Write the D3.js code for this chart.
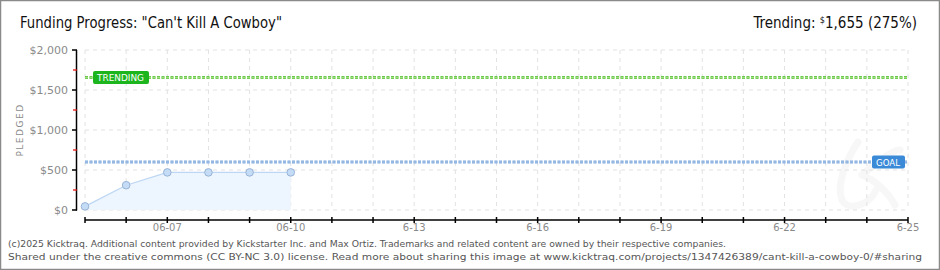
<!DOCTYPE html>
<html><head><meta charset="utf-8">
<script src="https://cdn.jsdelivr.net/npm/d3@7"></script>
<style>body{margin:0;background:#fff}svg{display:block}</style>
</head><body>
<svg id="c" width="940" height="270"></svg>
<script>
const dates = ["06-05","06-06","06-07","06-08","06-09","06-10"];
const pledged = [45, 310, 470, 470, 470, 470];
const axisDays = ["06-05","06-06","06-07","06-08","06-09","06-10","06-11","06-12","06-13","06-14","06-15","06-16","06-17","06-18","06-19","06-20","06-21","06-22","06-23","06-24","06-25"];
const axisLabels = {"06-07":"06-07","06-10":"06-10","06-13":"6-13","06-16":"6-16","06-19":"6-19","06-22":"6-22","06-25":"6-25"};
const yTicks = [0, 500, 1000, 1500, 2000];
const yMinor = [250, 750, 1250, 1750];
const goal = 600;
const trending = 1655;
const trendingPct = 275;
const title = "Funding Progress: \"Can't Kill A Cowboy\"";
const footer = ["(c)2025 Kicktraq. Additional content provided by Kickstarter Inc. and Max Ortiz. Trademarks and related content are owned by their respective companies.",
"Shared under the creative commons (CC BY-NC 3.0) license. Read more about sharing this image at www.kicktraq.com/projects/1347426389/cant-kill-a-cowboy-0/#sharing"];
const footerWidths = [718, 914];

const svg = d3.select("#c");
const x = d3.scalePoint().domain(axisDays).range([85, 908]);
const y = d3.scaleLinear().domain([0, 2000]).range([210, 50]);
const pf = "DejaVu Sans, sans-serif";

svg.append("rect").attr("x",0.5).attr("y",0.5).attr("width",939).attr("height",269)
  .attr("fill","#fff").attr("stroke","#8a8a8a").attr("stroke-width",1.5);

// faint watermark (decorative path)
svg.append("path").attr("d","M858,142 C846,160 836,185 842,200 C848,212 870,205 876,190 M862,175 C880,160 896,148 900,150 M862,175 C875,180 888,192 895,205")
  .attr("fill","none").attr("stroke","#f7f7f7").attr("stroke-width",7).attr("stroke-linecap","round");

// grid
const g = svg.append("g");
g.selectAll("line.v").data(axisDays).join("line")
  .attr("x1",d=>x(d)).attr("x2",d=>x(d)).attr("y1",y(2000)).attr("y2",y(0))
  .attr("stroke","#e2e2e2").attr("stroke-dasharray","4,4");
g.selectAll("line.h").data(yTicks).join("line")
  .attr("x1",85).attr("x2",908).attr("y1",d=>y(d)).attr("y2",d=>y(d))
  .attr("stroke","#e2e2e2").attr("stroke-dasharray","4,4");

// area + line
const area = d3.area().x((d,i)=>x(dates[i])).y0(y(0)).y1(d=>y(d));
const line = d3.line().x((d,i)=>x(dates[i])).y(d=>y(d));
svg.append("path").attr("d",area(pledged)).attr("fill","#edf5fe");
svg.append("path").attr("d",line(pledged)).attr("fill","none").attr("stroke","#bcd6f3").attr("stroke-width",1.2);

// goal + trending lines
function refLine(v, col, edge){
  svg.append("line").attr("x1",85).attr("x2",908).attr("y1",y(v)).attr("y2",y(v))
    .attr("stroke",edge).attr("stroke-width",3).attr("stroke-dasharray","3,1.5");
  svg.append("line").attr("x1",85).attr("x2",908).attr("y1",y(v)).attr("y2",y(v))
    .attr("stroke",col).attr("stroke-width",1.2).attr("stroke-dasharray","3,1.5");
}
refLine(trending, "#9be07f", "#6cc84a");
refLine(goal, "#a9c8ec", "#7fa9db");

// points
svg.selectAll("circle").data(pledged).join("circle")
  .attr("cx",(d,i)=>x(dates[i])).attr("cy",d=>y(d)).attr("r",3.8)
  .attr("fill","#c4dcf6").attr("stroke","#98b3d6").attr("stroke-width",1);

// labels on ref lines
function tag(xl, w, v, col, txt){
  const yy = y(v);
  svg.append("rect").attr("x",xl).attr("y",yy-6.5).attr("width",w).attr("height",13)
    .attr("rx",2).attr("fill",col);
  svg.append("text").attr("x",xl+4).attr("y",yy+3.5).attr("font-family",pf).attr("font-size",9)
    .attr("textLength",w-9).attr("lengthAdjust","spacingAndGlyphs").attr("fill","#fff").text(txt);
}
tag(93, 56, trending, "#1db51d", "TRENDING");
tag(872, 33, goal, "#3b8ad8", "GOAL");

// y axis
svg.append("line").attr("x1",76.5).attr("x2",76.5).attr("y1",y(2000)).attr("y2",y(0)+0.5).attr("stroke","#000").attr("stroke-width",1.5);
svg.selectAll("line.yt").data(yTicks).join("line")
  .attr("x1",72).attr("x2",77).attr("y1",d=>y(d)).attr("y2",d=>y(d)).attr("stroke","#000").attr("stroke-width",1.5);
svg.selectAll("line.ym").data(yMinor).join("line")
  .attr("x1",73).attr("x2",77).attr("y1",d=>y(d)).attr("y2",d=>y(d)).attr("stroke","#e00").attr("stroke-width",1.2);
svg.selectAll("text.yl").data(yTicks).join("text")
  .attr("x",68).attr("y",d=>y(d)+4).attr("text-anchor","end")
  .attr("font-family",pf).attr("font-size",11).attr("fill","#8a8a8a")
  .text(d=>"$"+d3.format(",")(d));
svg.append("text").attr("transform","translate(23,130) rotate(-90)").attr("text-anchor","middle")
  .attr("font-family",pf).attr("font-size",9).attr("letter-spacing",1.5).attr("fill","#8a8a8a").text("PLEDGED");

// x axis
svg.append("line").attr("x1",85).attr("x2",908).attr("y1",220).attr("y2",220).attr("stroke","#000").attr("stroke-width",1.5);
svg.selectAll("line.xt").data(axisDays).join("line")
  .attr("x1",d=>x(d)).attr("x2",d=>x(d)).attr("y1",217).attr("y2",223).attr("stroke","#000").attr("stroke-width",1.5);
svg.selectAll("text.xl").data(axisDays.filter(d=>axisLabels[d])).join("text")
  .attr("x",d=>x(d)).attr("y",231).attr("text-anchor","middle")
  .attr("font-family",pf).attr("font-size",10).attr("fill","#8a8a8a")
  .text(d=>axisLabels[d]);

// title
svg.append("text").attr("x",20).attr("y",28).attr("font-family","DejaVu Sans Condensed, sans-serif")
  .attr("font-size",15).attr("textLength",262).attr("lengthAdjust","spacingAndGlyphs").attr("fill","#111").text(title);
const tr = svg.append("text").attr("x",917).attr("y",28).attr("text-anchor","end")
  .attr("font-family","DejaVu Sans Condensed, sans-serif").attr("font-size",15).attr("fill","#111");
tr.append("tspan").text("Trending: ");
tr.append("tspan").attr("font-size",9).attr("dy",-5).text("$");
tr.append("tspan").attr("dy",5).text(d3.format(",")(trending)+" ("+trendingPct+"%)");

// footer
svg.selectAll("text.ft").data(footer).join("text")
  .attr("x",8).attr("y",(d,i)=>247+i*13).attr("font-family","Verdana, DejaVu Sans, sans-serif")
  .attr("font-size",9.5).attr("textLength",(d,i)=>footerWidths[i]).attr("lengthAdjust","spacingAndGlyphs")
  .attr("fill","#555").text(d=>d);
</script>
</body></html>
